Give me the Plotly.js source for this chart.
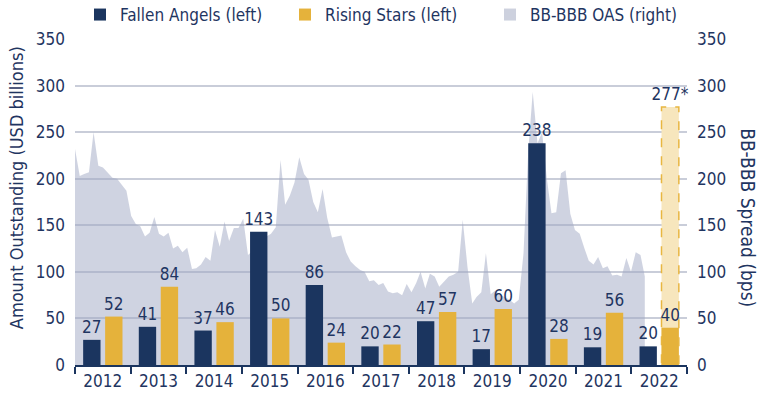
<!DOCTYPE html>
<html>
<head>
<meta charset="utf-8">
<script src="https://cdn.plot.ly/plotly-3.0.1.min.js"></script>
<style>
  html, body { margin: 0; padding: 0; background: #ffffff; }
  #chart { width: 761px; height: 399px; }
</style>
</head>
<body>
<div id="chart"></div>
<script>
// ---- Data ----
var years = ['2012','2013','2014','2015','2016','2017','2018','2019','2020','2021','2022'];
var fallenAngels = [27, 41, 37, 143, 86, 20, 47, 17, 238, 19, 20];
var risingStars  = [52, 84, 46, 50, 24, 22, 57, 60, 28, 56, 40];
var projectedYear = ['2022'];
var projectedRising = [277];

// BB-BBB OAS, monthly from Jan 2012 (bps)
var oasStart = '2012-01';
var oasValues = [
  232, 203, 205, 207, 250, 214, 212, 207, 201, 200, 194, 187,   // 2012
  160, 151, 149, 138, 142, 159, 141, 138, 142, 125, 128, 121,   // 2013
  126, 103, 104, 108, 116, 112, 145, 127, 154, 133, 147, 147,   // 2014
  157, 118, 122, 128, 130, 138, 141, 148, 220, 172, 182, 196,   // 2015
  223, 205, 199, 175, 164, 189, 158, 137, 138, 139, 121, 111,   // 2016
  106, 102, 100, 90, 91, 86, 88, 79, 77, 78, 75, 87,            // 2017
  78, 88, 100, 82, 98, 95, 84, 90, 95, 97, 100, 156,            // 2018
  105, 66, 73, 78, 120, 76, 80, 75, 73, 70, 66, 70,             // 2019
  120, 230, 293, 238, 250, 200, 163, 164, 206, 209, 162, 145,   // 2020
  141, 125, 112, 108, 116, 104, 106, 96, 97, 95, 115, 100,      // 2021
  121, 118, 95                                                  // 2022
];

// month dates for the OAS series
var oasDates = [];
(function () {
  var y = parseInt(oasStart.slice(0, 4), 10), m = parseInt(oasStart.slice(5, 7), 10);
  for (var i = 0; i < oasValues.length; i++) {
    oasDates.push(y + '-' + (m < 10 ? '0' + m : m) + '-01');
    m++; if (m > 12) { m = 1; y++; }
  }
})();

// ---- Style ----
var NAVY = '#1b355f';
var GOLD = '#e5b23b';
var AREA = 'rgba(160,168,195,0.5)';
var TEXT = '#1f3561';
var FONT = '"DejaVu Sans Condensed", "Liberation Sans Narrow", "Roboto", sans-serif';
var BARGAP = 0.21, GROUPGAP = 0.21;
var LABEL = {family: FONT, size: 17, color: TEXT};

var traces = [
  {
    type: 'scatter', mode: 'lines', name: 'BB-BBB OAS (right)',
    x: oasDates, y: oasValues, xaxis: 'x', yaxis: 'y',
    fill: 'tozeroy', line: {width: 0, color: AREA},
    fillcolor: AREA, hoverinfo: 'skip', showlegend: false
  },
  {
    type: 'bar', name: 'Fallen Angels (left)', x: years, y: fallenAngels,
    xaxis: 'x2', yaxis: 'y2', offsetgroup: 'fa',
    marker: {color: NAVY}, text: fallenAngels, textposition: 'outside',
    textfont: LABEL, constraintext: 'none', cliponaxis: false, legendrank: 1
  },
  {
    type: 'bar', name: 'Projected', x: projectedYear, y: projectedRising,
    xaxis: 'x2', yaxis: 'y2', offsetgroup: 'rs', showlegend: false,
    marker: {color: '#f7e6bd', line: {width: 0}},
    texttemplate: '%{y}*', textposition: 'outside',
    textfont: LABEL, constraintext: 'none', cliponaxis: false
  },
  {
    type: 'bar', name: 'Rising Stars (left)', x: years, y: risingStars,
    xaxis: 'x2', yaxis: 'y2', offsetgroup: 'rs',
    marker: {color: GOLD}, text: risingStars, textposition: 'outside',
    textfont: LABEL, constraintext: 'none', cliponaxis: false, legendrank: 2
  },
  {
    // legend key for the area series (square swatch like the reference)
    type: 'bar', name: 'BB-BBB OAS (right)', x: [null], y: [null],
    xaxis: 'x2', yaxis: 'y2', offsetgroup: 'fa',
    marker: {color: '#cdd1de'}, legendrank: 3, hoverinfo: 'skip'
  }
];

// dashed outline around the projected bar (same geometry as the bar slot)
var slot = (1 - BARGAP) / 2;
var bw = slot * (1 - GROUPGAP);
var pIdx = years.indexOf(projectedYear[0]);
var pCenter = pIdx + slot / 2;

var layout = {
  width: 761, height: 399,
  margin: {l: 75, r: 74, t: 39, b: 34, pad: 0, autoexpand: false},
  paper_bgcolor: '#ffffff', plot_bgcolor: '#ffffff',
  font: {family: FONT, size: 17, color: TEXT},
  barmode: 'group', bargap: BARGAP, bargroupgap: GROUPGAP,
  showlegend: true,
  legend: {
    orientation: 'h', xref: 'paper', x: 5 / 612, xanchor: 'left',
    yref: 'container', y: 1 - 15 / 399, yanchor: 'middle',
    font: {family: FONT, size: 17, color: TEXT}, traceorder: 'normal',
    itemwidth: 30, entrywidth: 160, entrywidthmode: 'pixels'
  },
  xaxis: {
    type: 'date', range: ['2012-01-01', '2022-12-01'], visible: false, fixedrange: true
  },
  yaxis: {
    range: [0, 350], side: 'right', tickvals: [0,50,100,150,200,250,300,350],
    showgrid: true, gridcolor: '#c9cdd9', gridwidth: 2, zeroline: false,
    showline: false, ticks: '', ticklabelstandoff: 9,
    tickfont: {family: FONT, size: 17, color: TEXT}
  },
  xaxis2: {
    type: 'category', overlaying: 'x', anchor: 'y2', side: 'bottom',
    showline: true, linecolor: NAVY, linewidth: 2,
    ticks: 'outside', tickson: 'boundaries', ticklen: 7, tickwidth: 2, tickcolor: NAVY,
    showgrid: false, tickfont: {family: FONT, size: 17, color: TEXT}
  },
  yaxis2: {
    range: [0, 350], overlaying: 'y', side: 'left', anchor: 'x2',
    tickvals: [0,50,100,150,200,250,300,350], showgrid: false, zeroline: false,
    showline: false, ticks: '', ticklabelstandoff: 9,
    tickfont: {family: FONT, size: 17, color: TEXT}
  },
  shapes: [{
    type: 'rect', xref: 'x2', yref: 'y2', layer: 'above',
    x0: pCenter - bw / 2, x1: pCenter + bw / 2, y0: 0, y1: projectedRising[0],
    line: {color: '#e8b640', width: 1.5, dash: 'dash'}, fillcolor: 'rgba(0,0,0,0)'
  }],
  annotations: [
    {text: 'Amount Outstanding (USD billions)', textangle: -90, xref: 'paper', yref: 'paper',
     x: (16 - 75) / 612, y: (364.7 - 188) / 325.7, xanchor: 'center', yanchor: 'middle',
     showarrow: false, font: {family: FONT, size: 18, color: TEXT}},
    {text: 'BB-BBB Spread (bps)', textangle: 90, xref: 'paper', yref: 'paper',
     x: (748 - 75) / 612, y: (364.7 - 217) / 325.7, xanchor: 'center', yanchor: 'middle',
     showarrow: false, font: {family: FONT, size: 19, color: TEXT}}
  ]
};

Plotly.newPlot('chart', traces, layout, {displayModeBar: false, staticPlot: true});
</script>
</body>
</html>
